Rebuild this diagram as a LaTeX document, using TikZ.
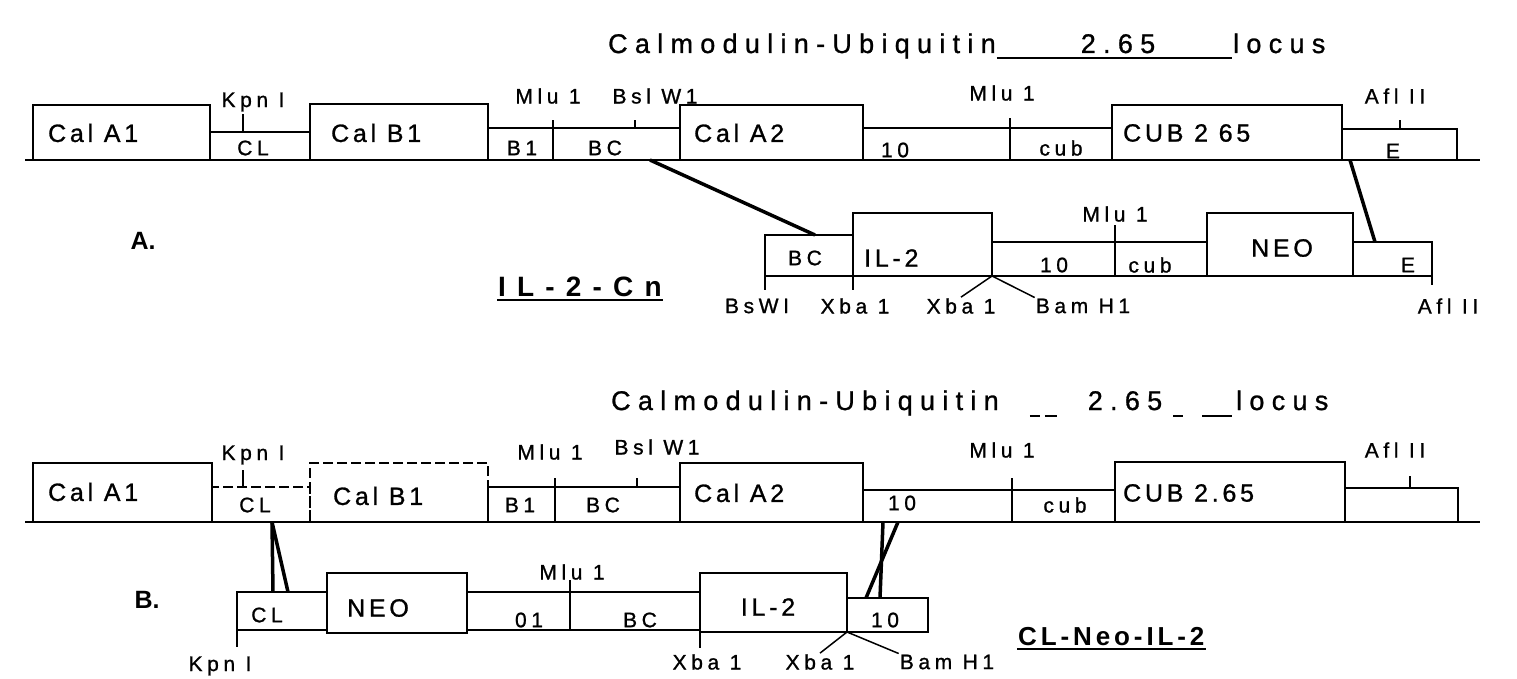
\documentclass[tikz,border=0pt]{standalone}
\usepackage{fontspec}
\setmainfont{Liberation Sans}
\newfontfamily\ffs[LetterSpace=22,FakeBold=1]{Liberation Sans}
\newfontfamily\ffb[LetterSpace=15,FakeBold=1]{Liberation Sans}
\newfontfamily\fft[LetterSpace=27,FakeBold=1]{Liberation Sans}
\newfontfamily\ffh[LetterSpace=40]{Liberation Sans}
\newfontfamily\ffn[LetterSpace=15]{Liberation Sans}
\usetikzlibrary{fit,calc}
\newcommand\gbox[6][]{\node[bx,#1,fit={(#3,#4) (#5,#6)}] (#2) {};}
\begin{document}
\begin{tikzpicture}[x=1pt,y=-1pt,line width=2.3pt,
  bx/.style={draw,rectangle,inner sep=0pt,outer sep=0pt,line width=2.3pt},
  lb/.style={font=\ffs\fontsize{21}{21}\selectfont,inner sep=0pt},
  bl/.style={font=\ffb\fontsize{25}{25}\selectfont,inner sep=0pt},
  tt/.style={font=\fft\fontsize{27}{27}\selectfont,inner sep=0pt},
  hd/.style={font=\ffh\bfseries\fontsize{28}{28}\selectfont,inner sep=0pt},
  hn/.style={font=\ffn\bfseries\fontsize{26}{26}\selectfont,inner sep=0pt},
  sect/.style={font=\bfseries\fontsize{25}{25}\selectfont,inner sep=0pt},
  conn/.style={line width=3.5pt},
  dsh/.style={dash pattern=on 10pt off 4pt}]
\fill[white] (0,0) rectangle (1517,679);
\useasboundingbox (0,0) rectangle (1517,679);

% ---------------- Row A ----------------
\node[tt,anchor=base west] (titA) at (607,53) {Calmodulin-Ubiquitin};
\node[tt,anchor=base] (numA) at (1118,53) {2.65};
\node[tt,anchor=base west] (locA) at (1232,53) {locus};
\draw[line width=1.5pt] ([yshift=-5pt]titA.base east) -- ([yshift=-5pt]locA.base west);

\coordinate (baseAl) at (25,160);
\coordinate (baseAr) at (1480,160);
\draw (baseAl) -- (baseAr);
\gbox{calA1}{33}{105}{210}{160}
\gbox{clA}{210}{132}{310}{160}
\gbox{calB1}{310}{104}{488}{160}
\gbox{b1A}{488}{128}{553}{160}
\gbox{bcA}{553}{128}{680}{160}
\gbox{calA2}{680}{105}{863}{160}
\gbox{tenA}{863}{128}{1010}{160}
\gbox{cubA}{1010}{128}{1112}{160}
\gbox{CUBA}{1112}{105}{1342}{160}
\gbox{eA}{1342}{129}{1457}{160}

\node[lb] (kpnA) at (253,102) {Kpn I};
\node[lb] (mluA1) at (548,96) {Mlu 1};
\node[lb] (bslA) at (655,96) {Bsl W1};
\node[lb] (mluA2) at (1002,93) {Mlu 1};
\node[lb] (aflA) at (1395,96) {Afl II};
\draw ([xshift=33pt]clA.north west) -- ++(0,-18);
\draw (b1A.north east) -- ++(0,-8);
\draw ([xshift=82pt]bcA.north west) -- ++(0,-8);
\draw (tenA.north east) -- ++(0,-10);
\draw ([xshift=58pt]eA.north west) -- ++(0,-9);

\node[bl,anchor=west] at (47,133) {Cal A1};
\node[bl,anchor=west] at (330,133) {Cal B1};
\node[bl,anchor=west] at (693,133) {Cal A2};
\node[bl,anchor=west] at (1122,133) {CUB 2 65};
\node[lb] at (253,148) {CL};
\node[lb] at (522,148) {B1};
\node[lb] at (605,148) {BC};
\node[lb] at (895,150) {10};
\node[lb] at (1061,148) {cub};
\node[lb] at (1393,151) {E};

\node[sect] (labA) at (143,241) {A.};

% lower construct A (IL-2-Cn)
\gbox{bcA2}{765}{235}{853}{276}
\gbox{il2A}{853}{213}{992}{276}
\gbox{tenA2}{992}{242}{1115}{276}
\gbox{cubA2}{1115}{242}{1207}{276}
\gbox{neoA}{1207}{213}{1353}{276}
\gbox{eA2}{1353}{242}{1432}{276}
\draw (eA2.south east) -- ++(0,9);
\draw (bcA2.south west) -- ++(0,14);
\draw (il2A.south west) -- ++(0,14);
\draw (tenA2.north east) -- ++(0,-17);

\node[lb] at (805,258) {BC};
\node[bl,anchor=west] at (863,258) {IL-2};
\node[lb] (mluA3) at (1115,214) {Mlu 1};
\node[lb] at (1054,265) {10};
\node[lb] at (1150,265) {cub};
\node[bl] at (1282,248) {NEO};
\node[lb] at (1408,265) {E};

\node[lb] (bswA) at (757,306) {BsWI};
\node[lb] (xbaA1) at (855,306) {Xba 1};
\node[lb] (xbaA2) at (961,306) {Xba 1};
\node[lb] (bamA) at (1083,306) {Bam H1};
\node[lb] (aflA2) at (1448,306) {Afl II};
\draw[line width=1.5pt] (il2A.south east) -- (xbaA2.north);
\draw[line width=1.5pt] (il2A.south east) -- (bamA.north west);

\node[hd,anchor=base west] (ilcn) at (497,296) {IL-2-Cn};
\draw[line width=1.5pt] ([yshift=-4pt]ilcn.base west) -- ([yshift=-4pt]ilcn.base east);

\draw[conn] ([xshift=97pt]bcA.south west) -- ([xshift=50pt]bcA2.north west);
\draw[conn] ([xshift=8pt]CUBA.south east) -- ([xshift=22pt]eA2.north west);

% ---------------- Row B ----------------
\node[tt,anchor=base west] (titB) at (610,410) {Calmodulin-Ubiquitin};
\node[tt,anchor=base] (numB) at (1125,410) {2.65};
\node[tt,anchor=base west] (locB) at (1235,410) {locus};
\draw[line width=1.5pt] ([xshift=30pt,yshift=-6pt]titB.base east) -- ++(10,0);
\draw[line width=1.5pt] ([xshift=45pt,yshift=-6pt]titB.base east) -- ++(12,0);
\draw[line width=1.5pt] ([xshift=-62pt,yshift=-6pt]locB.base west) -- ++(10,0);
\draw[line width=1.5pt] ([xshift=-33pt,yshift=-6pt]locB.base west) -- ++(30,0);

\coordinate (baseBl) at (25,522);
\coordinate (baseBr) at (1480,522);
\draw (baseBl) -- (baseBr);
\gbox{calA1B}{33}{463}{212}{522}
\gbox[dsh]{clB}{212}{487}{310}{522}
\gbox[dsh]{calB1B}{310}{463}{488}{522}
\gbox{b1B}{488}{487}{555}{522}
\gbox{bcB}{555}{487}{680}{522}
\gbox{calA2B}{680}{463}{863}{522}
\gbox{tenB}{863}{490}{1012}{522}
\gbox{cubB}{1012}{490}{1115}{522}
\gbox{CUBB}{1115}{462}{1345}{522}
\gbox{eB}{1345}{488}{1458}{522}

\node[lb] (kpnB) at (253,455) {Kpn I};
\node[lb] (mluB1) at (550,452) {Mlu 1};
\node[lb] (bslB) at (657,447) {Bsl W1};
\node[lb] (mluB2) at (1002,450) {Mlu 1};
\node[lb] (aflB) at (1395,450) {Afl II};
\draw ([xshift=31pt]clB.north west) -- ++(0,-17);
\draw (b1B.north east) -- ++(0,-9);
\draw ([xshift=82pt]bcB.north west) -- ++(0,-9);
\draw (tenB.north east) -- ++(0,-12);
\draw ([xshift=65pt]eB.north west) -- ++(0,-12);

\node[bl,anchor=west] at (47,492) {Cal A1};
\node[bl,anchor=west] at (332,496) {Cal B1};
\node[bl,anchor=west] at (693,493) {Cal A2};
\node[bl,anchor=west] at (1122,493) {CUB 2.65};
\node[lb] at (255,505) {CL};
\node[lb] at (520,505) {B1};
\node[lb] at (603,505) {BC};
\node[lb] at (902,503) {10};
\node[lb] at (1065,505) {cub};

\node[sect] (labB) at (147,600) {B.};

% lower construct B (CL-Neo-IL-2)
\gbox{clB2}{237}{592}{327}{630}
\gbox{neoB}{327}{573}{467}{633}
\gbox{o1B}{467}{592}{570}{630}
\gbox{bcB2}{570}{592}{700}{630}
\gbox{il2B}{700}{573}{847}{632}
\gbox{tenB2}{847}{598}{928}{632}
\draw (clB2.south west) -- ++(0,17);
\draw (il2B.south west) -- ++(0,16);
\draw (o1B.north east) -- ++(0,-12);

\node[lb] at (267,615) {CL};
\node[bl] at (378,608) {NEO};
\node[lb] at (529,620) {01};
\node[lb] (mluB3) at (572,572) {Mlu 1};
\node[lb] at (640,620) {BC};
\node[bl] at (768,607) {IL-2};
\node[lb] at (885,620) {10};

\node[lb] (kpnB2) at (220,666) {Kpn I};
\node[lb] (xbaB1) at (707,662) {Xba 1};
\node[lb] (xbaB2) at (820,662) {Xba 1};
\node[lb] (bamB) at (947,662) {Bam H1};
\draw[line width=1.5pt] (il2B.south east) -- (xbaB2.north);
\draw[line width=1.5pt] (il2B.south east) -- (bamB.north west);

\node[hn,anchor=base west] (clneo) at (1017,645) {CL-Neo-IL-2};
\draw[line width=1.5pt] ([yshift=-4pt]clneo.base west) -- ([yshift=-4pt]clneo.base east);

\draw[conn] ([xshift=60pt]clB.south west) -- ([xshift=36pt]clB2.north west);
\draw[conn] ([xshift=60pt]clB.south west) -- ([xshift=51pt]clB2.north west);
\draw[conn] ([xshift=20pt]tenB.south west) -- ([xshift=33pt]tenB2.north west);
\draw[conn] ([xshift=35pt]tenB.south west) -- ([xshift=19pt]tenB2.north west);
\end{tikzpicture}
\end{document}
